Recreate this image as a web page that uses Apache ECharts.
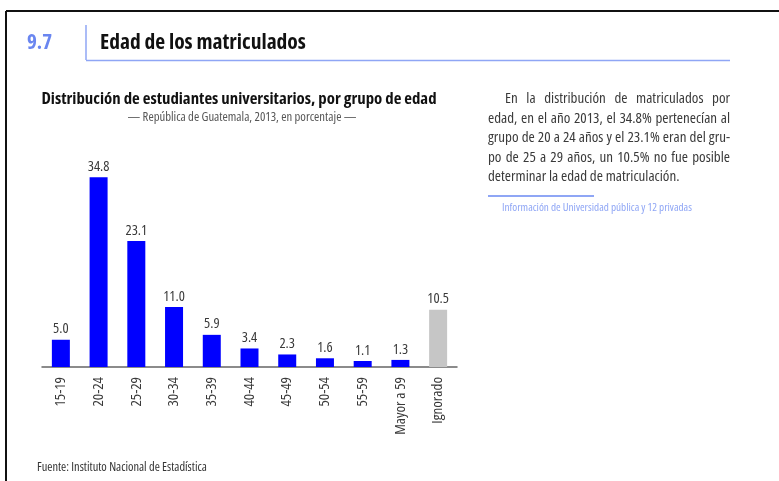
<!DOCTYPE html>
<html>
<head>
<meta charset="utf-8">
<script src="https://cdn.jsdelivr.net/npm/echarts@6/dist/echarts.min.js"></script>
<style>
  html, body { margin: 0; padding: 0; background: #fff; }
  #chart { width: 779px; height: 481px; }
  .texto {
    position: absolute; left: 488px; top: 88px; width: 242px;
    font-family: "Open Sans", sans-serif; font-stretch: condensed;
    font-size: 15px; line-height: 19.6px; color: #3a3a3a;
  }
  .texto div { text-align: justify; text-align-last: justify; white-space: nowrap; }
  .texto div.ultima { text-align-last: left; }
</style>
</head>
<body>
<div id="chart"></div>
<!-- texto lateral justificado -->
<div class="texto">
  <div style="padding-left:17px">En la distribución de matriculados por</div>
  <div>edad, en el año 2013, el 34.8% pertenecían al</div>
  <div>grupo de 20 a 24 años y el 23.1% eran del gru-</div>
  <div>po de 25 a 29 años, un 10.5% no fue posible</div>
  <div class="ultima">determinar la edad de matriculación.</div>
</div>
<script>
// datos
var grupos = ['15-19', '20-24', '25-29', '30-34', '35-39', '40-44', '45-49', '50-54', '55-59', 'Mayor a 59', 'Ignorado'];
var porcentajes = [5.0, 34.8, 23.1, 11.0, 5.9, 3.4, 2.3, 1.6, 1.1, 1.3, 10.5];

var fam = '"Open Sans", sans-serif';
var azul = '#0000ff';
var gris = '#c6c6c6';

var myChart = echarts.init(document.getElementById('chart'));

var option = {
  backgroundColor: '#fff',
  animation: false,
  grid: { left: 42, right: 322, top: 149, height: 218 },
  xAxis: {
    type: 'category',
    data: grupos,
    axisTick: { show: false },
    axisLine: { lineStyle: { color: '#666', width: 1.5 } },
    axisLabel: {
      rotate: 90, interval: 0, margin: 10,
      color: '#3a3a3a', fontFamily: fam, fontWeight: 'condensed', fontSize: 15
    }
  },
  yAxis: {
    type: 'value', min: 0, max: 40,
    show: false
  },
  series: [{
    type: 'bar',
    barWidth: 18,
    data: porcentajes.map(function (v, i) {
      return { value: v, itemStyle: { color: i === porcentajes.length - 1 ? gris : azul } };
    }),
    label: {
      show: true, position: 'top', distance: 3,
      color: '#3a3a3a', fontFamily: fam, fontWeight: 'condensed', fontSize: 14.5,
      formatter: function (p) { return p.value.toFixed(1); }
    }
  }],
  graphic: [
    // marco
    { type: 'line', shape: { x1: 6, y1: 11, x2: 779, y2: 11 }, style: { stroke: '#111', lineWidth: 2 } },
    { type: 'line', shape: { x1: 6, y1: 11, x2: 6, y2: 481 }, style: { stroke: '#111', lineWidth: 2 } },
    // encabezado
    { type: 'text', x: 27, y: 43, style: { text: '9.7', fill: '#6a86f0', font: 'bold condensed 21px ' + fam, verticalAlign: 'middle' } },
    { type: 'line', shape: { x1: 86, y1: 25, x2: 86, y2: 60 }, style: { stroke: '#8fa6f5', lineWidth: 1.5 } },
    { type: 'line', shape: { x1: 86, y1: 60.5, x2: 730, y2: 60.5 }, style: { stroke: '#8fa6f5', lineWidth: 1.5 } },
    { type: 'text', x: 100, y: 43, style: { text: 'Edad de los matriculados', fill: '#111', font: 'bold condensed 21.5px ' + fam, verticalAlign: 'middle' } },
    // título del gráfico
    { type: 'text', x: 239, y: 99, style: { text: 'Distribución de estudiantes universitarios, por grupo de edad', fill: '#111', font: 'bold condensed 16.8px ' + fam, align: 'center', verticalAlign: 'middle' } },
    { type: 'text', x: 242, y: 117, style: { text: '— República de Guatemala, 2013, en porcentaje —', fill: '#555', font: 'condensed 12.7px ' + fam, align: 'center', verticalAlign: 'middle' } },
    // nota
    { type: 'line', shape: { x1: 488, y1: 196, x2: 594, y2: 196 }, style: { stroke: '#8fa6f5', lineWidth: 2 } },
    { type: 'text', x: 502, y: 208, style: { text: 'Información de Universidad pública y 12 privadas', fill: '#8fa6f5', font: 'condensed 11.2px ' + fam, verticalAlign: 'middle' } },
    // fuente
    { type: 'text', x: 37, y: 467, style: { text: 'Fuente: Instituto Nacional de Estadística', fill: '#333', font: 'condensed 12.4px ' + fam, verticalAlign: 'middle' } }
  ]
};

myChart.setOption(option, true);
</script>
</body>
</html>
